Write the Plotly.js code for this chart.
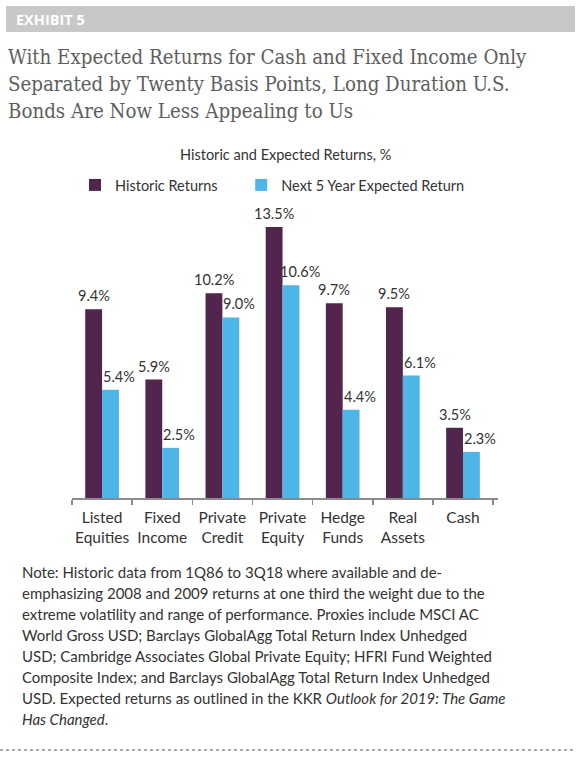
<!DOCTYPE html>
<html>
<head>
<meta charset="utf-8">
<script src="https://cdn.plot.ly/plotly-3.0.1.min.js"></script>
<style>
  html, body { margin: 0; padding: 0; background: #ffffff; }
  #chart { width: 580px; height: 760px; }
</style>
</head>
<body>
<div id="chart"></div>
<script>
// ---- data ----
const categories = ["Listed<br>Equities", "Fixed<br>Income", "Private<br>Credit", "Private<br>Equity", "Hedge<br>Funds", "Real<br>Assets", "Cash"];
const historicReturns = [9.4, 5.9, 10.2, 13.5, 9.7, 9.5, 3.5];
const expectedReturns = [5.4, 2.5, 9.0, 10.6, 4.4, 6.1, 2.3];
const seriesNames = ["Historic Returns", "Next 5 Year Expected Return"];

const exhibitLabel = "EXHIBIT 5";
const titleLines = [
  "With Expected Returns for Cash and Fixed Income Only",
  "Separated by Twenty Basis Points, Long Duration U.S.",
  "Bonds Are Now Less Appealing to Us"
];
const chartSubtitle = "Historic and Expected Returns, %";
const noteLines = [
  "Note: Historic data from 1Q86 to 3Q18 where available and de-",
  "emphasizing 2008 and 2009 returns at one third the weight due to the",
  "extreme volatility and range of performance. Proxies include MSCI AC",
  "World Gross USD; Barclays GlobalAgg Total Return Index Unhedged",
  "USD; Cambridge Associates Global Private Equity; HFRI Fund Weighted",
  "Composite Index; and Barclays GlobalAgg Total Return Index Unhedged",
  "USD. Expected returns as outlined in the KKR <i>Outlook for 2019: The Game</i>",
  "<i>Has Changed</i>."
];

// ---- layout geometry (pixels) ----
const W = 580, H = 760;
const PL = 72, PR = 498, PT = 207, PB = 498;
const px = x => (x - PL) / (PR - PL);
const py = y => (PB - y) / (PB - PT);

const purple = "#52254f";
const blue = "#4db6e6";
const sansFont = "Lato, 'Open Sans', sans-serif";
const legendPad = "\u00a0".repeat(5);

const traces = [
  { type: "bar", name: seriesNames[0] + legendPad, x: categories, y: historicReturns,
    marker: { color: purple }, hoverinfo: "none" },
  { type: "bar", name: seriesNames[1], x: categories, y: expectedReturns,
    marker: { color: blue }, hoverinfo: "none" }
];

const annotations = [];
// value labels
historicReturns.forEach((v, i) => annotations.push({
  x: categories[i], y: v, xref: "x", yref: "y", text: v.toFixed(1) + "%",
  showarrow: false, xanchor: "center", yanchor: "bottom", xshift: -8.5, yshift: 3,
  font: { family: sansFont, size: 14.5, color: "#333333" }
}));
expectedReturns.forEach((v, i) => annotations.push({
  x: categories[i], y: v, xref: "x", yref: "y", text: v.toFixed(1) + "%",
  showarrow: false, xanchor: "center", yanchor: "bottom", xshift: 17, yshift: 3,
  font: { family: sansFont, size: 14.5, color: "#333333" }
}));
// header label
annotations.push({
  xref: "paper", yref: "paper", x: px(14), y: py(19), xanchor: "left", yanchor: "middle",
  text: "<b>" + exhibitLabel + "</b>", showarrow: false,
  font: { family: "'Open Sans', sans-serif", size: 14.5, color: "#ffffff" }
});
// title lines
titleLines.forEach((t, i) => annotations.push({
  xref: "paper", yref: "paper", x: px(6), y: py(57 + i * 27), xanchor: "left", yanchor: "middle",
  text: t, showarrow: false,
  font: { family: "'DejaVu Serif Condensed', 'DejaVu Serif', serif", size: 20.3, color: "#5e5e5e" }
}));
// chart subtitle
annotations.push({
  xref: "paper", yref: "paper", x: px(285), y: py(154), xanchor: "center", yanchor: "middle",
  text: chartSubtitle, showarrow: false,
  font: { family: sansFont, size: 14.5, color: "#333333" }
});
// note lines
noteLines.forEach((t, i) => annotations.push({
  xref: "paper", yref: "paper", x: px(20), y: py(572 + i * 21), xanchor: "left", yanchor: "middle",
  text: t, showarrow: false,
  font: { family: sansFont, size: 15, color: "#333333" }
}));

const shapes = [
  { type: "rect", xref: "paper", yref: "paper", x0: px(6), x1: px(575), y0: py(6), y1: py(32),
    fillcolor: "#c8c8c8", line: { width: 0 }, layer: "below" },
  { type: "line", xref: "paper", yref: "paper", x0: px(0), x1: px(576), y0: py(750), y1: py(750),
    line: { color: "#aaaaaa", width: 2, dash: "dot" } }
];

const layout = {
  width: W, height: H,
  margin: { l: PL, r: W - PR, t: PT, b: H - PB, pad: 0 },
  paper_bgcolor: "#ffffff", plot_bgcolor: "#ffffff",
  barmode: "group", bargap: 0.44, bargroupgap: 0,
  showlegend: true,
  legend: {
    orientation: "h", x: px(75), y: py(185), xanchor: "left", yanchor: "middle",
    font: { family: sansFont, size: 14.5, color: "#333333" },
    bgcolor: "rgba(0,0,0,0)", traceorder: "normal"
  },
  xaxis: {
    type: "category", tickson: "boundaries", ticks: "outside", ticklen: 5, tickangle: 0,
    tickcolor: "#8a8a8a", tickwidth: 1.5, showline: true, linecolor: "#8a8a8a", linewidth: 1.5,
    showgrid: false, zeroline: false, fixedrange: true, ticklabelstandoff: 5,
    tickfont: { family: sansFont, size: 15.5, color: "#333333" }
  },
  yaxis: {
    range: [0, 14.5], autorange: false, showticklabels: false, showgrid: false,
    zeroline: false, showline: false, ticks: "", fixedrange: true
  },
  annotations: annotations,
  shapes: shapes
};

Plotly.newPlot("chart", traces, layout, { displayModeBar: false, staticPlot: true });
</script>
</body>
</html>
